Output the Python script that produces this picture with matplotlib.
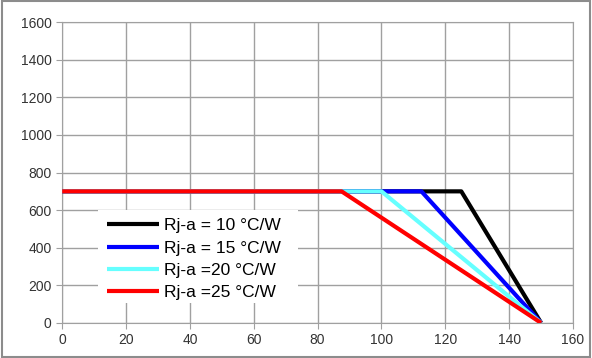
import numpy as np
import matplotlib
matplotlib.use('Agg')
import matplotlib.pyplot as plt
from matplotlib.patches import Rectangle

plt.rcParams['font.family'] = ['Liberation Sans', 'DejaVu Sans']

# derating curves: flat at 700 until the knee, then linear down to 0 at 150
labels = ['Rj-a = 10 \u00b0C/W', 'Rj-a = 15 \u00b0C/W', 'Rj-a =20 \u00b0C/W', 'Rj-a =25 \u00b0C/W']
colors = ['black', '#0000ff', '#66ffff', '#ff0000']
x_start = [0, 0, 0, 0]
x_knee = [125, 112.5, 100, 87.5]
x_end = [150, 150, 150, 150]
p_max = [700, 700, 700, 700]

fig = plt.figure(figsize=(5.92, 3.58), dpi=100)
fig.patches.append(Rectangle((0.003, 0.004), 0.994, 0.992, transform=fig.transFigure,
                             fill=False, edgecolor='#8c8c8c', linewidth=1.5))
ax = fig.add_axes([0.105, 0.098, 0.863, 0.840])

for i in range(len(labels)):
    xs = [x_start[i], x_knee[i], x_end[i]]
    ys = [p_max[i], p_max[i], 0]
    ax.plot(xs, ys, color=colors[i], linewidth=3, label=labels[i], solid_capstyle='butt', zorder=3)

ax.set_xlim(0, 160)
ax.set_ylim(0, 1600)
ax.set_xticks(np.arange(0, 161, 20))
ax.set_yticks(np.arange(0, 1601, 200))
ax.grid(True, color='#a0a0a0', linewidth=1)
ax.set_axisbelow(True)
for s in ax.spines.values():
    s.set_color('#a0a0a0')
ax.tick_params(direction='out', colors='#a0a0a0', labelcolor='#333333', labelsize=10, length=4)

# white box behind the legend hides the grid
ax.add_patch(Rectangle((0.07, 0.066), 0.392, 0.309, transform=ax.transAxes,
                       facecolor='white', edgecolor='none', zorder=1))

ax.legend(loc='upper left', bbox_to_anchor=(0.088, 0.348), frameon=False, fontsize=12.5,
          handlelength=3.0, handletextpad=0.3, labelspacing=0.41, borderaxespad=0,
          borderpad=0)

plt.savefig('out.png', dpi=100)
